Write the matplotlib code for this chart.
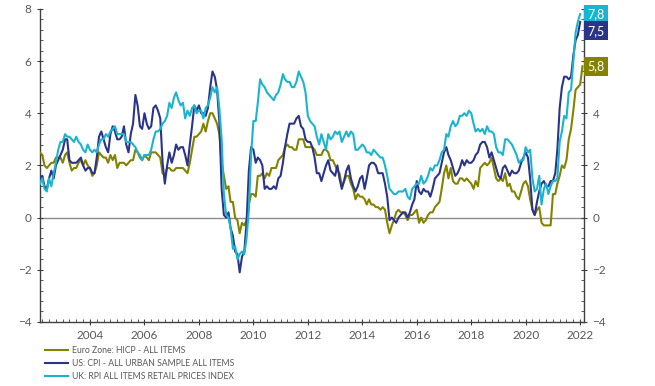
import numpy as np
import pandas as pd
import matplotlib
matplotlib.use('Agg')
import matplotlib.pyplot as plt
import matplotlib.dates as mdates
from matplotlib.ticker import MultipleLocator

plt.rcParams['font.family'] = ['Lato', 'DejaVu Sans']

# Inflação anual (%), mensal, a partir de Mar 2002
zona_euro = [
    2.5, 2.4, 2.0, 1.9, 2.0, 2.1, 2.1, 2.3, 2.3, 2.3,
    2.1, 2.4, 2.5, 2.1, 1.8, 1.9, 1.9, 2.1, 2.2, 2.0, 2.2, 2.0,
    1.9, 1.6, 1.7, 2.0, 2.5, 2.4, 2.3, 2.3, 2.1, 2.4, 2.2, 2.4,
    1.9, 2.1, 2.1, 2.1, 2.0, 2.1, 2.2, 2.2, 2.6, 2.5, 2.3, 2.2,
    2.4, 2.3, 2.2, 2.5, 2.5, 2.5, 2.4, 2.3, 1.7, 1.6, 1.9, 1.9,
    1.8, 1.8, 1.9, 1.9, 1.9, 1.9, 1.8, 1.7, 2.1, 2.6, 3.1, 3.1,
    3.2, 3.3, 3.6, 3.3, 3.7, 4.0, 4.0, 3.8, 3.6, 3.2, 2.1, 1.6,
    1.1, 1.2, 0.6, 0.6, 0.0, -0.1, -0.6, -0.2, -0.3, -0.1, 0.5, 0.9,
    0.9, 0.8, 1.6, 1.6, 1.7, 1.5, 1.7, 1.6, 1.9, 1.9, 1.9, 2.2,
    2.3, 2.4, 2.7, 2.8, 2.7, 2.7, 2.6, 2.6, 3.0, 3.0, 3.0, 2.7,
    2.7, 2.7, 2.7, 2.6, 2.4, 2.4, 2.4, 2.6, 2.6, 2.5, 2.2, 2.2,
    2.0, 1.8, 1.7, 1.2, 1.4, 1.6, 1.6, 1.3, 1.1, 0.7, 0.9, 0.8,
    0.8, 0.7, 0.5, 0.7, 0.5, 0.5, 0.4, 0.4, 0.3, 0.4, 0.3, -0.2,
    -0.6, -0.3, -0.1, 0.2, 0.3, 0.2, 0.2, 0.1, -0.1, 0.1, 0.1, 0.2,
    0.3, -0.2, 0.0, -0.2, -0.1, 0.1, 0.2, 0.2, 0.4, 0.5, 0.6, 1.1,
    1.7, 2.0, 1.5, 1.9, 1.4, 1.3, 1.3, 1.5, 1.5, 1.4, 1.5, 1.4,
    1.3, 1.1, 1.4, 1.2, 1.9, 2.0, 2.1, 2.0, 2.1, 2.3, 1.9, 1.5,
    1.4, 1.5, 1.4, 1.7, 1.2, 1.3, 1.0, 1.0, 0.8, 0.7, 1.0, 1.3,
    1.4, 1.2, 0.7, 0.3, 0.1, 0.3, 0.4, -0.2, -0.3, -0.3, -0.3, -0.3,
    0.9, 0.9, 1.3, 1.6, 2.0, 1.9, 2.2, 3.0, 3.4, 4.1, 4.9, 5.0,
    5.1, 5.8,
]

eua = [
    1.5, 1.6, 1.2, 1.1, 1.5, 1.8, 1.5, 2.0, 2.2, 2.4,
    2.6, 3.0, 3.0, 2.2, 2.1, 2.1, 2.1, 2.2, 2.3, 2.0, 1.8, 1.9,
    1.9, 1.7, 1.7, 2.3, 3.1, 3.3, 3.0, 2.7, 2.5, 3.2, 3.5, 3.3,
    3.0, 3.0, 3.1, 3.5, 2.8, 2.5, 3.2, 3.6, 4.7, 4.3, 3.5, 3.4,
    4.0, 3.6, 3.4, 3.5, 4.2, 4.3, 4.1, 3.8, 2.1, 1.3, 2.0, 2.5,
    2.1, 2.4, 2.8, 2.6, 2.7, 2.7, 2.4, 2.0, 2.8, 3.5, 4.3, 4.1,
    4.3, 4.0, 4.0, 3.9, 4.2, 5.0, 5.6, 5.4, 4.9, 3.7, 1.1, 0.1,
    0.0, 0.2, -0.4, -0.7, -1.3, -1.4, -2.1, -1.5, -1.3, -0.2, 1.8, 2.7,
    2.6, 2.1, 2.3, 2.2, 2.0, 1.1, 1.2, 1.1, 1.1, 1.2, 1.1, 1.5,
    1.6, 2.1, 2.7, 3.2, 3.6, 3.6, 3.6, 3.8, 3.9, 3.5, 3.4, 3.0,
    2.9, 2.9, 2.7, 2.3, 1.7, 1.7, 1.4, 1.7, 2.0, 2.2, 1.8, 1.7,
    1.6, 2.0, 1.5, 1.1, 1.4, 1.8, 2.0, 1.5, 1.2, 1.0, 1.2, 1.5,
    1.6, 1.1, 1.5, 2.0, 2.1, 2.1, 2.0, 1.7, 1.7, 1.7, 1.3, 0.8,
    -0.1, 0.0, -0.1, -0.2, 0.0, 0.1, 0.2, 0.2, 0.0, 0.2, 0.5, 0.7,
    1.4, 1.0, 0.9, 1.1, 1.0, 1.0, 0.8, 1.1, 1.5, 1.6, 1.7, 2.1,
    2.5, 2.7, 2.4, 2.2, 1.9, 1.6, 1.7, 1.9, 2.2, 2.0, 2.2, 2.1,
    2.1, 2.2, 2.4, 2.5, 2.8, 2.9, 2.9, 2.7, 2.3, 2.5, 2.2, 1.9,
    1.6, 1.5, 1.9, 2.0, 1.8, 1.6, 1.8, 1.7, 1.7, 1.8, 2.1, 2.3,
    2.5, 2.3, 1.5, 0.3, 0.1, 0.6, 1.0, 1.3, 1.4, 1.2, 1.2, 1.4,
    1.4, 1.7, 2.6, 4.2, 5.0, 5.4, 5.4, 5.3, 5.4, 6.2, 6.8, 7.0,
    7.5,
]

reino_unido = [
    1.3, 1.5, 1.1, 1.0, 1.5, 1.2, 1.7, 2.1, 2.6, 2.9,
    2.9, 3.2, 3.1, 3.1, 3.0, 2.9, 3.1, 2.9, 2.8, 2.6, 2.5, 2.8,
    2.6, 2.5, 2.6, 2.5, 2.8, 3.0, 3.0, 3.2, 3.1, 3.3, 3.4, 3.5,
    3.2, 3.2, 3.2, 3.2, 2.9, 2.9, 2.9, 2.8, 2.7, 2.5, 2.4, 2.2,
    2.4, 2.4, 2.4, 2.6, 3.0, 3.3, 3.3, 3.4, 3.6, 3.7, 3.9, 4.4,
    4.2, 4.6, 4.8, 4.5, 4.3, 4.4, 3.8, 4.1, 3.9, 4.2, 4.3, 4.0,
    4.1, 4.1, 3.8, 4.2, 4.3, 4.6, 5.0, 4.8, 5.0, 4.2, 3.0, 0.9,
    0.1, 0.0, -0.4, -1.2, -1.1, -1.6, -1.4, -1.3, -1.4, -0.8, 0.3, 2.4,
    3.7, 3.7, 4.4, 5.3, 5.1, 5.0, 4.8, 4.7, 4.6, 4.5, 4.7, 4.8,
    5.1, 5.5, 5.3, 5.2, 5.2, 5.0, 5.0, 5.2, 5.6, 5.4, 5.2, 4.8,
    3.9, 3.7, 3.6, 3.5, 3.1, 2.8, 3.2, 2.9, 2.6, 3.2, 3.0, 3.1,
    3.3, 3.2, 3.3, 2.9, 3.1, 3.3, 3.1, 3.3, 3.2, 2.6, 2.6, 2.7,
    2.8, 2.7, 2.5, 2.5, 2.4, 2.6, 2.5, 2.4, 2.3, 2.3, 2.0, 1.6,
    1.1, 1.0, 0.9, 0.9, 1.0, 1.0, 1.0, 1.1, 0.8, 0.7, 1.1, 1.2,
    1.3, 1.3, 1.6, 1.3, 1.4, 1.6, 1.9, 1.8, 2.0, 2.0, 2.2, 2.5,
    2.6, 3.2, 3.1, 3.5, 3.7, 3.5, 3.6, 3.9, 3.9, 4.0, 3.9, 4.1,
    4.0, 3.6, 3.3, 3.4, 3.3, 3.4, 3.2, 3.5, 3.3, 3.3, 3.2, 2.7,
    2.5, 2.5, 2.4, 3.0, 3.0, 2.9, 2.8, 2.6, 2.4, 2.1, 2.2, 2.2,
    2.7, 2.5, 2.6, 1.5, 1.0, 1.1, 1.6, 0.5, 1.1, 1.3, 0.9, 1.2,
    1.4, 1.4, 1.5, 2.9, 3.3, 3.9, 3.8, 4.8, 4.9, 6.0, 7.1, 7.5,
    7.8,
]

nomes = ['Euro Zone: HICP - ALL ITEMS',
         'US: CPI - ALL URBAN SAMPLE ALL ITEMS',
         'UK: RPI ALL ITEMS RETAIL PRICES INDEX']
cores = ['#838300', '#2a3488', '#1ab4d0']
series = [zona_euro, eua, reino_unido]

cinza = '#595959'

fig = plt.figure(figsize=(6.55, 3.86), dpi=100)
ax = fig.add_axes([0.061, 0.166, 0.831, 0.811])

for valores, cor, nome in zip(series, cores, nomes):
    datas = pd.date_range('2002-03-01', periods=len(valores), freq='MS')
    ax.plot(datas, valores, color=cor, lw=1.5, label=nome, zorder=3)

ax.axhline(0, color='#8c8c8c', lw=1.0, zorder=1)

ax.set_xlim(pd.Timestamp('2002-03-01'), pd.Timestamp('2022-02-25'))
ax.set_ylim(-4, 8)

ax.xaxis.set_major_locator(mdates.YearLocator(2))
ax.xaxis.set_major_formatter(mdates.DateFormatter('%Y'))
ax.xaxis.set_minor_locator(mdates.MonthLocator(bymonth=[1, 4, 7, 10]))
ax.yaxis.set_major_locator(MultipleLocator(2))
ax.yaxis.set_minor_locator(MultipleLocator(0.4))

ax.spines['top'].set_visible(False)
for lado in ['left', 'right', 'bottom']:
    ax.spines[lado].set_color('#404040')
    ax.spines[lado].set_linewidth(1.0)

ax.tick_params(axis='both', which='major', labelsize=8.5, colors='#404040',
               labelcolor=cinza, length=4, direction='inout')
ax.tick_params(axis='both', which='minor', colors='#404040', length=2.5,
               direction='in')
ax.tick_params(axis='y', which='both', right=True, labelright=True)
ax.tick_params(axis='y', which='major', pad=4)

# Caixas com o último valor de cada série (por cima dos rótulos 8 e 6, como no original)
ultimos = [(s[-1], cor) for s, cor in zip(series, cores)]
ultimos.sort(key=lambda t: -t[0])
pos = []
for v, cor in ultimos:
    y = v
    if pos and pos[-1] - y < 0.64:
        y = pos[-1] - 0.64
    pos.append(y)
    ax.annotate(f'{v:.1f}'.replace('.', ','), xy=(1.0, y),
                xycoords=('axes fraction', 'data'),
                xytext=(2, 0), textcoords='offset points',
                ha='left', va='center', fontsize=9, color='white',
                bbox=dict(boxstyle='square,pad=0.28', fc=cor, ec='none'),
                zorder=5, annotation_clip=False)

fig.legend(loc='upper left', bbox_to_anchor=(0.0635, 0.112), frameon=False,
           fontsize=6.2, labelcolor=cinza, handlelength=2.7,
           handletextpad=0.45, labelspacing=0.45, borderaxespad=0)

fig.savefig('out.png', dpi=100)
